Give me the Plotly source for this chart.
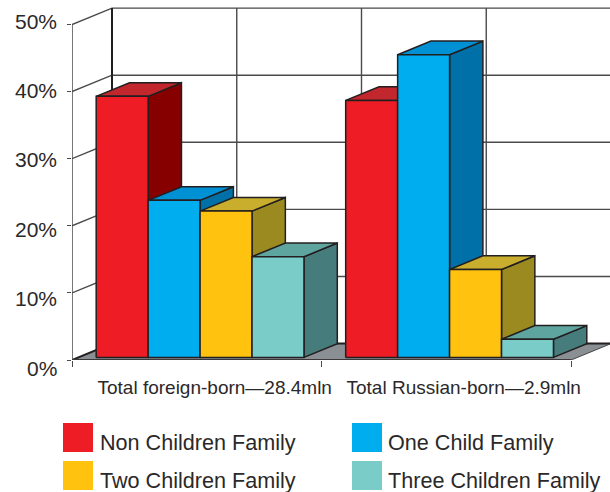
import plotly.graph_objects as go

# Share of families by number of children, per population group (percent)
categories = ["Total foreign-born—28.4mln", "Total Russian-born—2.9mln"]
series_names = ["Non Children Family", "One Child Family", "Two Children Family", "Three Children Family"]
non_children = [38.9, 38.3]
one_child = [23.4, 45.1]
two_children = [21.8, 13.1]
three_children = [15.0, 2.7]
y_ticks = [0, 10, 20, 30, 40, 50]

front_colors = ["#ee1c25", "#00aeef", "#ffc20e", "#79ccc7"]
top_colors = ["#c1272d", "#0090d4", "#c9ae2e", "#5fa59f"]
side_colors = ["#870000", "#0071a8", "#9a8a20", "#477c7c"]
INK = "#231f20"
GRID = "#4a4a4c"
TEXT = "#2b2829"

# Oblique projection: depth 1 is the back wall
DEPTH_X = 40 / 249.5
DEPTH_Y = 16.4 / 6.71
N_CATS = 2
X_MAX = 538 / 249.5
Y_MAX = 360 / 6.71

BAR_W = 0.2082
GROUP_START = 0.0713
NEAR, FAR = 0.16, 0.993


def project(x, v, depth):
    return x + depth * DEPTH_X, v + depth * DEPTH_Y


def poly(points, fill=None, line=INK, width=1.5, name=""):
    xs, ys = zip(*[project(*p) for p in points])
    return go.Scatter(
        x=list(xs), y=list(ys), mode="lines", name=name,
        fill="toself" if fill else "none", fillcolor=fill,
        line=dict(color=line, width=width), hoverinfo="skip",
        showlegend=False, cliponaxis=False,
    )


fig = go.Figure()

# Floor
fig.add_trace(poly([(0, 0, 0), (N_CATS, 0, 0), (N_CATS, 0, 1), (0, 0, 1), (0, 0, 0)],
                   fill="#8a8f94", line="#8a8f94", width=0.5))
fig.add_trace(poly([(0, 0, 0), (0, 0, 1), (N_CATS, 0, 1)], width=2))
fig.add_trace(poly([(N_CATS, 0, 1), (N_CATS, 0, 0)], line=GRID, width=1))

# Gridlines on the back wall and the left wall
for v in y_ticks[1:]:
    fig.add_trace(poly([(0, v, 0), (0, v, 1), (X_MAX, v, 1)], line=GRID, width=1.4))
for k in range(1, 2 * N_CATS):
    fig.add_trace(poly([(k / 2, 0, 1), (k / 2, 50, 1)], line=GRID, width=1.4))
fig.add_trace(poly([(0, 0, 1), (0, 50, 1)], width=2))
fig.add_trace(poly([(0, 0, 0), (0, 50, 0)], line=GRID, width=1.5))

# Boxes, painted left to right so each one overlaps its neighbour's side face
all_values = [non_children, one_child, two_children, three_children]
for c in range(N_CATS):
    for s, values in enumerate(all_values):
        v = values[c]
        x0 = c + GROUP_START + s * BAR_W
        x1 = x0 + BAR_W
        name = f"{series_names[s]} – {categories[c]}"
        fig.add_trace(poly([(x1, 0, NEAR), (x1, 0, FAR), (x1, v, FAR), (x1, v, NEAR), (x1, 0, NEAR)],
                           fill=side_colors[s], name=name))
        fig.add_trace(poly([(x0, v, NEAR), (x1, v, NEAR), (x1, v, FAR), (x0, v, FAR), (x0, v, NEAR)],
                           fill=top_colors[s], name=name))
        fig.add_trace(poly([(x0, 0, NEAR), (x1, 0, NEAR), (x1, v, NEAR), (x0, v, NEAR), (x0, 0, NEAR)],
                           fill=front_colors[s], name=name))

# Front edge of the floor
fig.add_trace(poly([(0, 0, 0), (N_CATS, 0, 0)], line="#3a3839", width=2))

fig.update_xaxes(
    range=[0, X_MAX], showgrid=False, zeroline=False, showline=False,
    tickmode="array", tickvals=[0.572, 1.57], ticktext=categories, ticks="",
    tickfont=dict(family="Liberation Sans", size=19, color=TEXT), ticklabelstandoff=14,
    minor=dict(ticks="outside", ticklen=6, tickwidth=1.3, tickcolor=GRID, tick0=0, dtick=1, showgrid=False),
)
fig.update_yaxes(
    range=[0, Y_MAX], showgrid=False, zeroline=False, showline=False,
    tickmode="array", tickvals=y_ticks, showticklabels=False,
    ticks="outside", ticklen=4, tickwidth=1.3, tickcolor=GRID,
)

annotations = []
shapes = []

# Percent labels spread slightly wider than the ticks they sit beside
for v in y_ticks:
    annotations.append(dict(
        x=0, xref="x", y=v, yref="y", text=f"{v}%", showarrow=False,
        xanchor="right", yanchor="middle", xshift=-13.5, yshift=-8 + 0.23 * v,
        font=dict(family="Liberation Sans", size=21, color=TEXT),
    ))

# Two-column key under the chart
key_cols = [(63, 98), (352, 386)]
key_rows = [(423, 452), (461, 490)]
for s, name in enumerate(series_names):
    (sx, tx), (y0, y1) = key_cols[s % 2], key_rows[s // 2]
    shapes.append(dict(type="rect", xref="paper", yref="paper", layer="above",
                       x0=(sx - 72) / 538, x1=(sx + 30 - 72) / 538,
                       y0=(360 - y1) / 360, y1=(360 - y0) / 360,
                       fillcolor=front_colors[s], line=dict(width=0)))
    annotations.append(dict(
        x=(tx - 72) / 538, xref="paper", y=(360 - (y0 + y1) / 2 - 5) / 360, yref="paper",
        text=name, showarrow=False, xanchor="left", yanchor="middle",
        font=dict(family="Liberation Sans", size=21.6, color=TEXT),
    ))

fig.update_layout(
    width=610, height=492, margin=dict(l=72, r=0, t=0, b=132),
    paper_bgcolor="white", plot_bgcolor="white", showlegend=False,
    annotations=annotations, shapes=shapes,
)
fig.write_html("out.html", config={"displayModeBar": False})
